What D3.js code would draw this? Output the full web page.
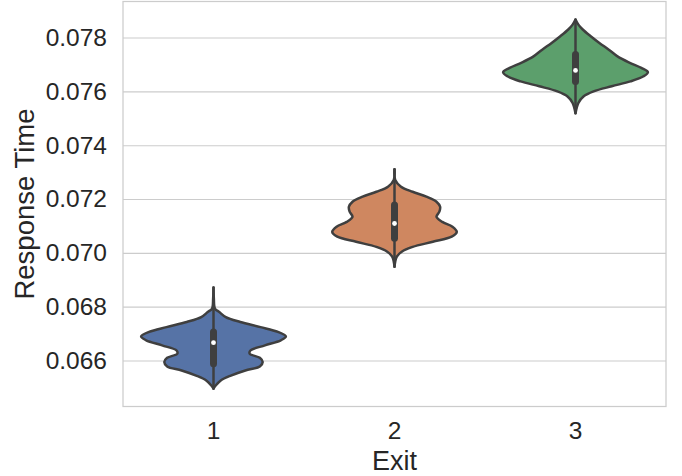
<!DOCTYPE html>
<html>
<head>
<meta charset="utf-8">
<script src="https://cdn.jsdelivr.net/npm/d3@7"></script>
<style>
  html, body { margin: 0; padding: 0; background: #ffffff; }
  svg { display: block; font-family: "Liberation Sans", Arial, sans-serif; }
</style>
</head>
<body>
<svg id="chart" width="682" height="476"></svg>
<script>
// Exit categories and their fill colours
const categories = ["1", "2", "3"];
const fillColors = ["#5673a6", "#cf8760", "#5c9f6c"];

// Violin outlines: response-time values and relative density (1 = widest violin)
const exit1Values  = [0.06871, 0.06830, 0.06793, 0.06780, 0.06761, 0.06743, 0.06724, 0.06706, 0.06689, 0.06675, 0.06656, 0.06637, 0.06625, 0.06610, 0.06594, 0.06578, 0.06563, 0.06544, 0.06526, 0.06507, 0.06495];
const exit1Density = [0.00, 0.005, 0.02, 0.08, 0.17, 0.37, 0.65, 0.89, 1.00, 0.93, 0.71, 0.51, 0.50, 0.64, 0.68, 0.64, 0.44, 0.24, 0.10, 0.03, 0.00];

const exit2Values  = [0.07311, 0.07271, 0.07246, 0.07227, 0.07209, 0.07190, 0.07171, 0.07153, 0.07134, 0.07115, 0.07097, 0.07078, 0.07060, 0.07041, 0.07022, 0.07004, 0.06985, 0.06948];
const exit2Density = [0.00, 0.01, 0.09, 0.25, 0.44, 0.58, 0.63, 0.62, 0.58, 0.66, 0.80, 0.86, 0.79, 0.53, 0.25, 0.10, 0.03, 0.00];

const exit3Values  = [0.07867, 0.07848, 0.07830, 0.07805, 0.07780, 0.07755, 0.07730, 0.07706, 0.07687, 0.07671, 0.07656, 0.07637, 0.07619, 0.07600, 0.07581, 0.07557, 0.07519];
const exit3Density = [0.00, 0.04, 0.10, 0.21, 0.33, 0.46, 0.58, 0.75, 0.91, 1.00, 0.94, 0.76, 0.50, 0.25, 0.11, 0.04, 0.00];

// Inner box statistics per exit
const whiskerHigh = [0.06871, 0.07311, 0.07867];
const quartile3   = [0.06706, 0.07178, 0.07737];
const medians     = [0.06666, 0.07109, 0.07678];
const quartile1   = [0.06588, 0.07054, 0.07637];
const whiskerLow  = [0.06495, 0.06948, 0.07519];

// Axis ticks and labels
const yTicks = [0.066, 0.068, 0.070, 0.072, 0.074, 0.076, 0.078];
const yDomain = [0.06429, 0.07934];
const xLabel = "Exit";
const yLabel = "Response Time";

const violins = [
  { values: exit1Values, density: exit1Density },
  { values: exit2Values, density: exit2Density },
  { values: exit3Values, density: exit3Density }
];

const svg = d3.select("#chart");
const plot = { left: 123, right: 666, top: 1.5, bottom: 406.5 };
const plotW = plot.right - plot.left;
const plotH = plot.bottom - plot.top;

const x = d3.scaleBand().domain(categories).range([plot.left, plot.right]).padding(0);
const y = d3.scaleLinear().domain(yDomain).range([plot.bottom, plot.top]);
const halfWidth = d3.scaleLinear().domain([0, 1]).range([0, x.bandwidth() * 0.4]);

const gridColor = "#cccccc";
const textColor = "#262626";
const lineColor = "#3f3f3f";

// Horizontal grid + y tick labels
const yAxis = svg.append("g")
  .attr("transform", `translate(${plot.left},0)`)
  .call(d3.axisLeft(y).tickValues(yTicks).tickFormat(d3.format(".3f"))
    .tickSizeInner(-plotW).tickSizeOuter(0).tickPadding(16));
yAxis.select(".domain").remove();
yAxis.selectAll(".tick line").attr("stroke", gridColor).attr("stroke-width", 1.1);
yAxis.selectAll(".tick text")
  .attr("fill", textColor).style("font-size", "24.5px")
  .attr("font-family", "Liberation Sans, Arial, sans-serif");

// x tick labels
const xAxis = svg.append("g")
  .attr("transform", `translate(0,${plot.bottom})`)
  .call(d3.axisBottom(x).tickSize(0).tickPadding(15.5));
xAxis.select(".domain").remove();
xAxis.selectAll(".tick text")
  .attr("fill", textColor).style("font-size", "24.5px")
  .attr("font-family", "Liberation Sans, Arial, sans-serif");

// Plot frame
svg.append("rect")
  .attr("x", plot.left).attr("y", plot.top)
  .attr("width", plotW).attr("height", plotH)
  .attr("fill", "none").attr("stroke", gridColor).attr("stroke-width", 1.25);

// Violins
violins.forEach((v, i) => {
  const cx = x(categories[i]) + x.bandwidth() / 2;
  const pts = v.values.map((val, j) => ({ val, d: v.density[j] }));
  const area = d3.area()
    .y(p => y(p.val))
    .x0(p => cx - halfWidth(p.d))
    .x1(p => cx + halfWidth(p.d))
    .curve(d3.curveCatmullRom.alpha(0.5));
  svg.append("path")
    .datum(pts)
    .attr("d", area)
    .attr("fill", fillColors[i])
    .attr("stroke", lineColor)
    .attr("stroke-width", 2.5)
    .attr("stroke-linejoin", "round");

  // whisker
  svg.append("line")
    .attr("x1", cx).attr("x2", cx)
    .attr("y1", y(whiskerLow[i])).attr("y2", y(whiskerHigh[i]))
    .attr("stroke", lineColor).attr("stroke-width", 2.5)
    .attr("stroke-linecap", "round");
  // interquartile box
  svg.append("line")
    .attr("x1", cx).attr("x2", cx)
    .attr("y1", y(quartile1[i])).attr("y2", y(quartile3[i]))
    .attr("stroke", lineColor).attr("stroke-width", 7)
    .attr("stroke-linecap", "round");
  // median
  svg.append("circle")
    .attr("cx", cx).attr("cy", y(medians[i]))
    .attr("r", 2.4).attr("fill", "#ffffff");
});

// Axis titles
svg.append("text")
  .attr("x", (plot.left + plot.right) / 2).attr("y", 470)
  .attr("text-anchor", "middle")
  .attr("fill", textColor).style("font-size", "27px")
  .text(xLabel);

svg.append("text")
  .attr("transform", `translate(34,${(plot.top + plot.bottom) / 2}) rotate(-90)`)
  .attr("text-anchor", "middle")
  .attr("fill", textColor).style("font-size", "27.5px")
  .text(yLabel);
</script>
</body>
</html>
